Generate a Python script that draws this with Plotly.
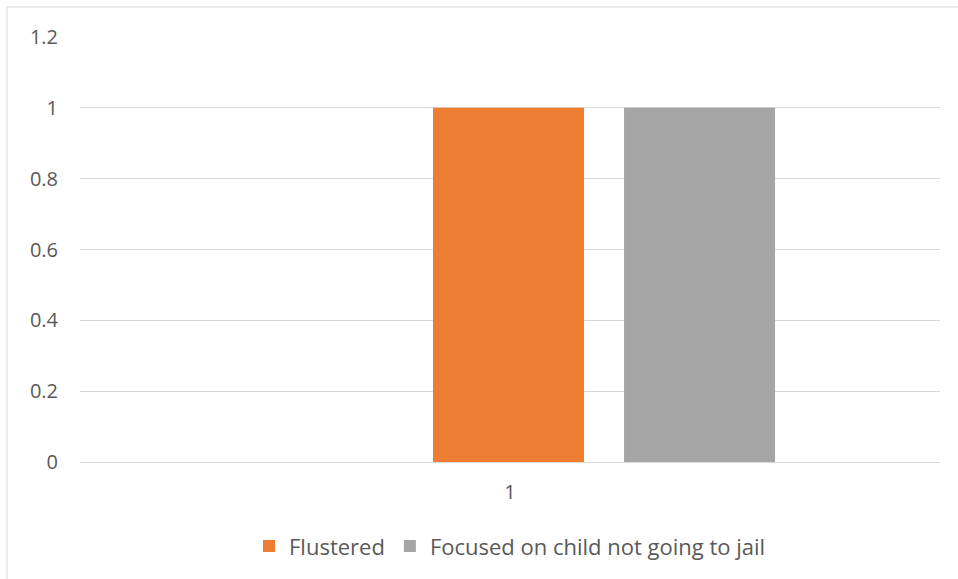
import plotly.graph_objects as go

# Chart data
categories = ["1"]
series_names = ["Flustered", "Focused on child not going to jail"]
series_values = [[1], [1]]
series_colors = ["#ED7D31", "#A5A5A5"]
y_ticks = [0, 0.2, 0.4, 0.6, 0.8, 1, 1.2]
y_tick_labels = ["0", "0.2", "0.4", "0.6", "0.8", "1", "1.2"]

# bar geometry in category units (one category = 1 unit)
bar_width = 0.1756
bar_offsets = [-0.0895, 0.1326]

FONT = "Open Sans"
TEXT = "#595959"
GRID = "#D9D9D9"

fig = go.Figure()
for name, vals, col, off in zip(series_names, series_values, series_colors, bar_offsets):
    fig.add_trace(go.Bar(
        x=categories, y=vals, name=name,
        marker=dict(color=col, line=dict(width=0)),
        width=bar_width, offset=off,
    ))

fig.update_layout(
    width=958, height=579,
    margin=dict(l=80, r=18, t=37, b=117),
    paper_bgcolor="white", plot_bgcolor="white",
    font=dict(family=FONT, size=21, color=TEXT),
    showlegend=True,
    legend=dict(orientation="h", x=0.5, xanchor="center", y=-0.198, yanchor="middle",
                font=dict(family=FONT, size=22, color=TEXT), itemwidth=30,
                traceorder="normal"),
    xaxis=dict(type="category", range=[-0.5, 0.5], showgrid=False, showline=False,
               zeroline=False, ticks="", ticklabelstandoff=16,
               tickfont=dict(size=20, color=TEXT)),
    yaxis=dict(range=[0, 1.2], tickvals=y_ticks, ticktext=y_tick_labels,
               showgrid=True, gridcolor=GRID, gridwidth=1.3, zeroline=True,
               zerolinecolor=GRID, zerolinewidth=1.3, showline=False, ticks="",
               ticklabelstandoff=21, tickfont=dict(size=20, color=TEXT)),
    shapes=[dict(type="rect", xref="paper", yref="paper",
                 x0=-0.0849, x1=1.2, y0=-0.5, y1=1.0706,
                 line=dict(color=GRID, width=1), fillcolor="rgba(0,0,0,0)", layer="below")],
)

fig.write_html("out.html")
